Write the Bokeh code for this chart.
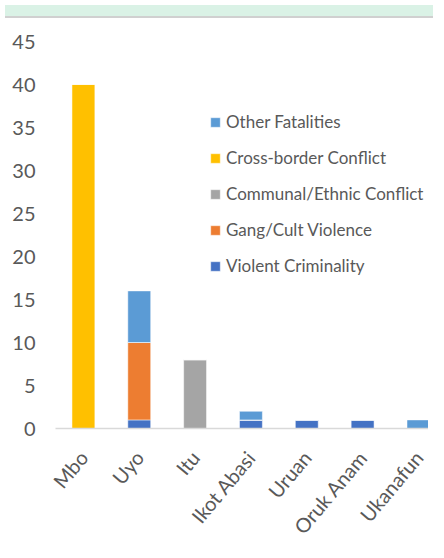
from bokeh.plotting import figure
from bokeh.models import (ColumnDataSource, Range1d, FixedTicker, Legend, LegendItem, Div)
from bokeh.layouts import column
from bokeh.embed import file_html
from bokeh.resources import INLINE
import math

categories = ["Mbo", "Uyo", "Itu", "Ikot Abasi", "Uruan", "Oruk Anam", "Ukanafun"]
violent_criminality = [0, 1, 0, 1, 1, 1, 0]
gang_cult_violence = [0, 9, 0, 0, 0, 0, 0]
communal_ethnic = [0, 0, 8, 0, 0, 0, 0]
cross_border = [40, 0, 0, 0, 0, 0, 0]
other_fatalities = [0, 6, 0, 1, 0, 0, 1]
y_ticks = [0, 5, 10, 15, 20, 25, 30, 35, 40, 45]

series_names = ["Violent Criminality", "Gang/Cult Violence", "Communal/Ethnic Conflict",
                "Cross-border Conflict", "Other Fatalities"]
keys = ["vc", "gc", "ce", "cb", "of"]
colors = ["#4472C4", "#ED7D31", "#A5A5A5", "#FFC000", "#5B9BD5"]

xs = [i + 0.5 for i in range(len(categories))]
source = ColumnDataSource(dict(x=xs, vc=violent_criminality, gc=gang_cult_violence,
                               ce=communal_ethnic, cb=cross_border, of=other_fatalities))

FONT = "Lato"
TXT = "#595959"

p = figure(width=428, height=529, output_backend="svg", toolbar_location=None,
           x_range=Range1d(0, 6.68), y_range=Range1d(0, 45),
           min_border_left=55, min_border_right=0, min_border_top=18, min_border_bottom=124)
p.outline_line_color = None
p.xgrid.grid_line_color = None
p.ygrid.grid_line_color = None

rs = p.vbar_stack(keys, x="x", width=0.41, color=colors, source=source,
                  line_color="white", line_width=0.5)

p.yaxis.ticker = FixedTicker(ticks=y_ticks)
p.yaxis.axis_line_color = None
p.yaxis.major_tick_line_color = None
p.yaxis.minor_tick_line_color = None
p.yaxis.major_label_text_font = FONT
p.yaxis.major_label_text_font_size = "20px"
p.yaxis.major_label_text_color = TXT
p.yaxis.major_label_standoff = 14

p.xaxis.ticker = FixedTicker(ticks=xs)
p.xaxis.major_label_overrides = {x: c for x, c in zip(xs, categories)}
p.xaxis.axis_line_color = "#D9D9D9"
p.xaxis.axis_line_width = 1.5
p.xaxis.major_tick_line_color = None
p.xaxis.minor_tick_line_color = None
p.xaxis.major_label_orientation = math.radians(50)
p.xaxis.major_label_text_font = FONT
p.xaxis.major_label_text_font_size = "20px"
p.xaxis.major_label_text_color = TXT
p.xaxis.major_label_standoff = 19

items = [LegendItem(label=n, renderers=[r]) for n, r in zip(series_names, rs)][::-1]
legend = Legend(items=items, location=(154, 152), padding=0, margin=0,
                border_line_color=None, background_fill_alpha=0,
                glyph_width=12, glyph_height=12, label_standoff=5,
                label_text_font=FONT, label_text_font_size="17px",
                label_text_color=TXT, spacing=15, label_height=20)
p.add_layout(legend, "center")

band = Div(width=428, height=13, styles={"background-color": "#DAF2E6",
                                         "border-bottom": "2px solid #D0D0D0",
                                         "box-sizing": "border-box"})

layout = column(band, p, spacing=0)
open("out.html", "w").write(file_html(layout, INLINE))
